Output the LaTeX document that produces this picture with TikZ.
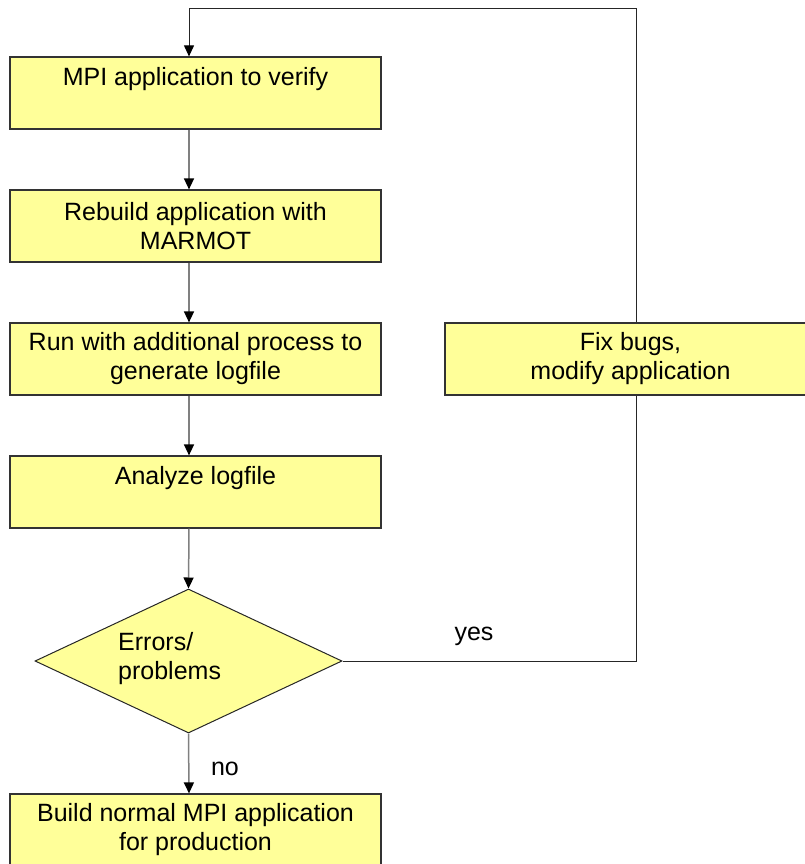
\documentclass[tikz,border=0pt]{standalone}
\usepackage{fontspec}
\setmainfont{Liberation Sans}
\usetikzlibrary{shapes.geometric,arrows.meta}
\definecolor{boxfill}{HTML}{FFFF99}
\definecolor{edgegray}{HTML}{808080}
\newcommand{\blankline}{\rule[-4pt]{0pt}{4pt}}
\begin{document}
\begin{tikzpicture}[x=1pt,y=-1pt,
  every node/.style={font=\fontsize{25}{29}\selectfont, inner sep=0pt},
  stepbox/.style={draw=black!80, line width=1.2pt, fill=boxfill,
    minimum width=371pt, minimum height=72pt, align=center},
  decision/.style={diamond, draw=black!85, line width=1pt, fill=boxfill,
    minimum width=307pt, minimum height=144pt},
  flow/.style={draw=edgegray, line width=1.5pt,
    -{Triangle[width=10pt,length=11pt,color=black]}},
  loopline/.style={draw=black!85, line width=1pt},
]
\useasboundingbox (0,0) rectangle (805,864);
\clip (0,0) rectangle (805,864);

% process steps (left column)
\node[stepbox] (verify)  at (195.5,93)  {MPI application to verify\\\blankline};
\node[stepbox] (rebuild) at (195.5,226) {Rebuild application with\\MARMOT};
\node[stepbox] (run)     at (195.5,359) {Run with additional process to\\generate logfile};
\node[stepbox] (analyze) at (195.5,492) {Analyze logfile\\\blankline};
\node[decision] (check)  at (188.5,661) {};
\node[anchor=west, align=left] (checktxt) at (118,659) {Errors/\\problems};
\node[stepbox] (build)   at (195.5,830) {Build normal MPI application\\for production};

% correction step (right column)
\node[stepbox] (fix)     at (630.5,359) {Fix bugs,\\modify application};

% helper coordinates for the connector columns
\coordinate (col)   at (189,0);
\coordinate (loopx) at (636,0);
\coordinate (topy)  at (0,9);

% main flow
\draw[flow] (verify.south -| col)  -- (rebuild.north -| col);
\draw[flow] (rebuild.south -| col) -- (run.north -| col);
\draw[flow] (run.south -| col)     -- (analyze.north -| col);
\draw[flow] (analyze.south -| col) -- (check.north);
\draw[flow] (check.south)          -- (build.north -| col);

% feedback loop
\draw[loopline] (check.east) -| (fix.south -| loopx);
\draw[loopline, -{Triangle[width=10pt,length=11pt,color=black]}]
  (fix.north -| loopx) -- (loopx |- topy) -| (verify.north -| col);

% branch labels
\node (yes) at (474,636) {yes};
\node (no)  at (225,769) {no};
\end{tikzpicture}
\end{document}
